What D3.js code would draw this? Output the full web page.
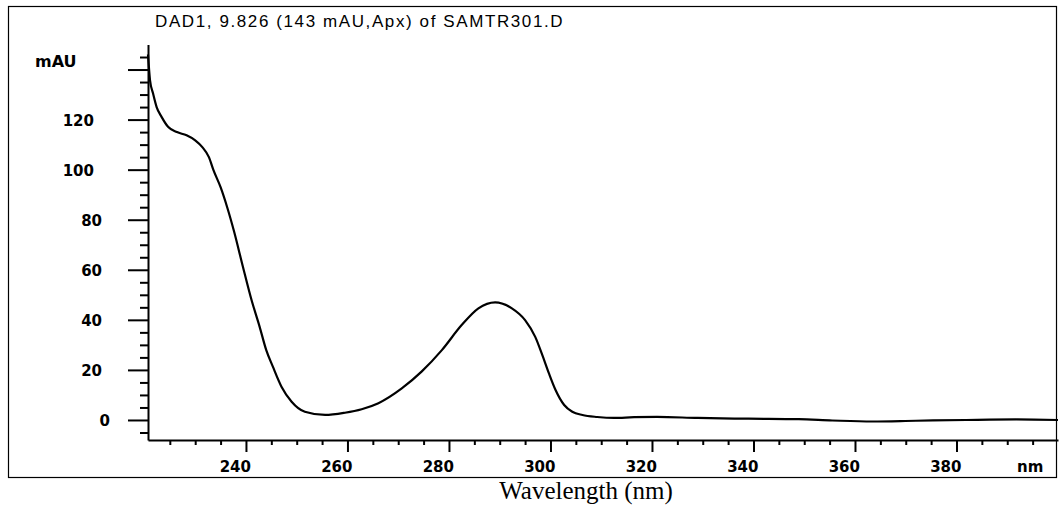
<!DOCTYPE html>
<head>
    <title>DAD1 spectrum</title>
    <script src="https://cdnjs.cloudflare.com/ajax/libs/d3/7.8.5/d3.min.js"></script>
    <style>
    body {
        margin:0;
        background:white;
    }
    .tick-label, .unit-label {
        font-family:"DejaVu Sans", sans-serif;
        font-weight:bold;
        font-size:15px;
        fill:black;
    }
    .title {
        font-family:"Liberation Sans", Arial, sans-serif;
        font-size:17px;
        letter-spacing:1.6px;
    }
    .xlabel {
        font-family:"Liberation Serif", "Times New Roman", serif;
        font-size:25px;
    }
    </style>
</head>
<body>
<div id='chart'></div>
<script>
    // spectrum (wavelength in nm, absorbance in mAU)
    var wavelength = [220.7, 221.1, 221.7, 222.4, 223.4, 224.7, 226.4, 228.3, 230, 231.4,
        232.7, 233.6, 235, 236.3, 237.7, 239.4, 241.1, 242.7, 244, 245.3,
        247, 249, 251.6, 255.6, 259.5, 262.8, 266.1, 270.7, 274.6, 278.6,
        282.5, 285.8, 289.1, 292.4, 295, 297, 298.4, 299.7, 301, 302.7,
        304.3, 306.3, 309.2, 312.5, 316.5, 321, 329, 339, 348.9, 355.5,
        363.4, 372, 381.9, 391.8, 400];
    var absorbance = [146, 135.7, 130.4, 125, 121, 117, 115, 113.7, 111.7, 109,
        105, 99.8, 93, 85, 75, 61.2, 47.9, 37.2, 27.9, 21.3,
        13.3, 7.3, 3.3, 2.0, 2.9, 4.3, 6.7, 12.6, 19.3, 27.9,
        37.9, 44.6, 47.0, 44.6, 39.9, 33.2, 25.9, 18.6, 12.0, 6.0,
        3.3, 2.0, 1.2, 0.8, 1.1, 1.2, 0.8, 0.5, 0.3, -0.2,
        -0.6, -0.3, 0, 0.2, 0];

    var xMajor = [240, 260, 280, 300, 320, 340, 360, 380];
    var yMajor = [0, 20, 40, 60, 80, 100, 120, 140];
    var yLabels = [0, 20, 40, 60, 80, 100, 120];
    var xMinor = d3.range(225, 400, 5).filter(function(d) { return xMajor.indexOf(d) < 0; });
    var yMinor = d3.range(-5, 150, 5).filter(function(d) { return yMajor.indexOf(d) < 0; });

    var titleText = 'DAD1, 9.826 (143 mAU,Apx) of SAMTR301.D';

    var svg = d3.select('#chart')
        .append('svg')
        .attr('width', 1059)
        .attr('height', 507);

    var x = d3.scaleLinear().domain([220.7, 400]).range([148, 1058]);
    var y = d3.scaleLinear().domain([-8, 150]).range([440, 44.5]);

    // frame round the plot
    svg.append('rect')
        .attr('x', 8.5).attr('y', 6.5)
        .attr('width', 1048).attr('height', 471)
        .attr('fill', 'none')
        .attr('stroke', 'black')
        .attr('stroke-width', 1.2);

    svg.append('text')
        .attr('class', 'title')
        .attr('x', 155).attr('y', 27)
        .text(titleText);

    // y axis: long ticks every 20, short ones every 5
    svg.append('g')
        .attr('transform', 'translate(148,0)')
        .call(d3.axisLeft(y).tickValues(yMajor).tickSize(20).tickSizeOuter(0).tickFormat(''));
    svg.append('g')
        .attr('transform', 'translate(148,0)')
        .call(d3.axisLeft(y).tickValues(yMinor).tickSize(8).tickSizeOuter(0).tickFormat(''))
        .select('.domain').remove();

    svg.selectAll('.ylab')
        .data(yLabels)
        .enter().append('text')
        .attr('class', 'tick-label')
        .attr('text-anchor', 'end')
        .attr('x', function(d) { return 118 - 8 * String(d).length; })
        .attr('y', function(d) { return y(d) + 6; })
        .text(function(d) { return d; });

    svg.append('text')
        .attr('class', 'unit-label')
        .attr('x', 35).attr('y', 67)
        .style('font-size', '16px')
        .text('mAU');

    // x axis
    svg.append('g')
        .attr('transform', 'translate(0,440)')
        .call(d3.axisBottom(x).tickValues(xMajor).tickSize(12).tickSizeOuter(0).tickFormat(''));
    svg.append('g')
        .attr('transform', 'translate(0,440)')
        .call(d3.axisBottom(x).tickValues(xMinor).tickSize(5).tickSizeOuter(0).tickFormat(''))
        .select('.domain').remove();

    svg.selectAll('.xlab')
        .data(xMajor)
        .enter().append('text')
        .attr('class', 'tick-label')
        .attr('text-anchor', 'end')
        .attr('x', function(d) { return x(d) + 5; })
        .attr('y', 472)
        .text(function(d) { return d; });

    svg.append('text')
        .attr('class', 'unit-label')
        .attr('x', 1017).attr('y', 472)
        .text('nm');

    svg.selectAll('.domain, .tick line')
        .attr('stroke', 'black')
        .attr('stroke-width', 2);

    svg.append('text')
        .attr('class', 'xlabel')
        .attr('text-anchor', 'middle')
        .attr('x', 586).attr('y', 499)
        .text('Wavelength (nm)');

    // the spectrum itself
    var line = d3.line()
        .x(function(d, i) { return x(wavelength[i]); })
        .y(function(d) { return y(d); })
        .curve(d3.curveMonotoneX);

    svg.append('path')
        .datum(absorbance)
        .attr('fill', 'none')
        .attr('stroke', 'black')
        .attr('stroke-width', 2.2)
        .attr('stroke-linejoin', 'round')
        .attr('d', line);
</script>
</body>
</html>
